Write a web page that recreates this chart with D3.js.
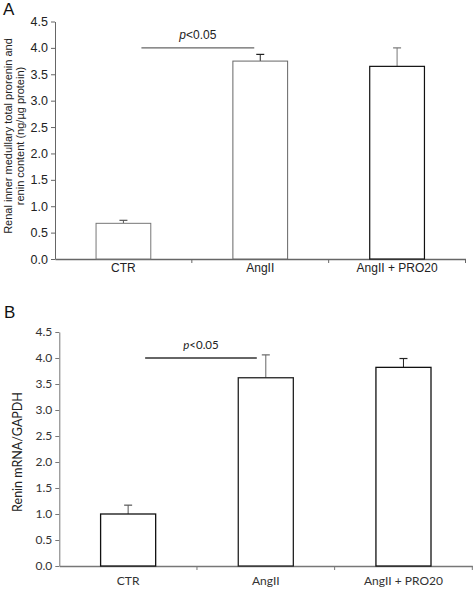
<!DOCTYPE html>
<html><head><meta charset="utf-8">
<script src="https://cdn.jsdelivr.net/npm/d3@7"></script>
<style>body{margin:0;background:#fff}svg{display:block}</style>
</head><body>
<svg id="c" width="473" height="589"></svg>
<script>
const categories = ["CTR", "AngII", "AngII + PRO20"];
const valuesA = [0.676, 3.75, 3.65];
const errorsA = [0.057, 0.127, 0.35];
const valuesB = [1.0, 3.62, 3.82];
const errorsB = [0.17, 0.44, 0.17];
const yTicks = [0, 0.5, 1.0, 1.5, 2.0, 2.5, 3.0, 3.5, 4.0, 4.5];
const sigLabel = "p<0.05";

const svg = d3.select("#c");

function panel(cfg) {
  const g = svg.append("g");
  const x = d3.scaleBand().domain(categories).range([cfg.x0, cfg.x1]).paddingInner(0).paddingOuter(0);
  const y = d3.scaleLinear().domain([0, 4.5]).range([cfg.y0, cfg.y1]);
  const bw = x.bandwidth() * 0.4;

  const ya = d3.axisLeft(y).tickValues(yTicks).tickFormat(d3.format(".1f")).tickSize(4).tickSizeOuter(0);
  const yg = g.append("g").attr("transform", `translate(${cfg.x0},0)`).call(ya);
  yg.select(".domain").attr("stroke", cfg.axisColor).attr("stroke-width", 1);
  yg.selectAll(".tick line").attr("stroke", cfg.axisColor);
  yg.selectAll(".tick text").style("font-family", cfg.font).style("font-size", cfg.tickSize + "px").attr("fill", cfg.textColor).attr("x", -7);

  const xa = d3.axisBottom(x).tickSize(0).tickSizeOuter(0);
  const xg = g.append("g").attr("transform", `translate(0,${cfg.y0})`).call(xa);
  xg.select(".domain").attr("stroke", cfg.axisColor).attr("stroke-width", 1.5);
  xg.selectAll(".tick text").style("font-family", cfg.font).style("font-size", cfg.labelSize + "px").attr("fill", cfg.textColor).attr("dy", null).attr("y", cfg.labelDy);
  const bounds = categories.map(c => x(c)).concat([cfg.x1]);
  g.selectAll(".sep").data(bounds.slice(1)).enter().append("line")
    .attr("x1", d => d).attr("x2", d => d).attr("y1", cfg.y0).attr("y2", cfg.y0 + 4)
    .attr("stroke", cfg.axisColor);

  const data = categories.map((c, i) => ({c, v: cfg.values[i], e: cfg.errors[i], i}));
  const eg = g.selectAll(".err").data(data).enter().append("g");
  eg.append("line").attr("x1", d => x(d.c) + x.bandwidth()/2).attr("x2", d => x(d.c) + x.bandwidth()/2)
    .attr("y1", d => y(d.v)).attr("y2", d => y(d.v + d.e)).attr("stroke", d => cfg.errColor[d.i]).attr("stroke-width", 1);
  eg.append("line").attr("x1", d => x(d.c) + x.bandwidth()/2 - 4).attr("x2", d => x(d.c) + x.bandwidth()/2 + 4)
    .attr("y1", d => y(d.v + d.e)).attr("y2", d => y(d.v + d.e)).attr("stroke", d => cfg.errColor[d.i]).attr("stroke-width", 1.2);
  g.selectAll(".bar").data(data).enter().append("rect")
    .attr("x", d => x(d.c) + (x.bandwidth() - bw)/2).attr("width", bw)
    .attr("y", d => y(d.v)).attr("height", d => y(0) - y(d.v))
    .attr("fill", "#fff").attr("stroke", d => cfg.barStroke[d.i]).attr("stroke-width", d => cfg.barWidth[d.i]);

  const sx1 = x(categories[0]) + x.bandwidth()/2 + cfg.sigOff1;
  const sx2 = x(categories[1]) + x.bandwidth()/2 - cfg.sigOff2;
  g.append("line").attr("x1", sx1).attr("x2", sx2).attr("y1", y(cfg.sigY)).attr("y2", y(cfg.sigY))
    .attr("stroke", cfg.sigColor).attr("stroke-width", 1.3);
  const t = g.append("text").attr("x", (sx1 + sx2)/2).attr("y", y(cfg.sigY) - 9)
    .attr("text-anchor", "middle").style("font-family", cfg.font).style("font-size", cfg.sigSize + "px").attr("fill", "#222");
  t.append("tspan").attr("font-style", "italic").text(sigLabel.slice(0, 1));
  t.append("tspan").text(sigLabel.slice(1));

  g.append("text").attr("x", cfg.letterX).attr("y", cfg.letterY).style("font-family", "'Liberation Sans', Arial, sans-serif")
    .style("font-size", "17px").attr("fill", "#111").text(cfg.letter);

  cfg.ylabel.forEach((line, k) => {
    g.append("text").attr("transform", `translate(${cfg.ylabelX[k]},${cfg.ylabelY}) rotate(-90)`)
      .attr("text-anchor", "middle").style("font-family", cfg.font).style("font-size", cfg.ylabelSize + "px")
      .attr("fill", "#222").text(line);
  });
}

panel({
  x0: 55, x1: 465.5, y0: 259, y1: 21.5,
  values: valuesA, errors: errorsA,
  font: "'Liberation Sans', Arial, sans-serif", tickSize: 12.5, labelSize: 12, sigSize: 12, textColor: "#222",
  axisColor: "#666", labelDy: 13,
  barStroke: ["#777", "#666", "#111"], barWidth: [1, 1, 1.2],
  errColor: ["#555", "#222", "#777"],
  sigY: 4.0, sigOff1: 18, sigOff2: 6, sigColor: "#666",
  letter: "A", letterX: 3, letterY: 15,
  ylabel: ["Renal inner medullary total prorenin and", "renin content (ng/\u00b5g protein)"],
  ylabelX: [12, 24], ylabelY: 136, ylabelSize: 11
});

panel({
  x0: 59.3, x1: 472.3, y0: 566, y1: 332,
  values: valuesB, errors: errorsB,
  font: "Lato, 'Open Sans', sans-serif", tickSize: 12, labelSize: 12, sigSize: 11.5, textColor: "#333",
  axisColor: "#777", labelDy: 19,
  barStroke: ["#111", "#222", "#111"], barWidth: [1.3, 1.3, 1.3],
  errColor: ["#555", "#666", "#222"],
  sigY: 4.0, sigOff1: 17, sigOff2: 9, sigColor: "#333",
  letter: "B", letterX: 4, letterY: 318,
  ylabel: ["Renin mRNA/GAPDH"],
  ylabelX: [22], ylabelY: 452, ylabelSize: 12.5
});
</script>
</body></html>
